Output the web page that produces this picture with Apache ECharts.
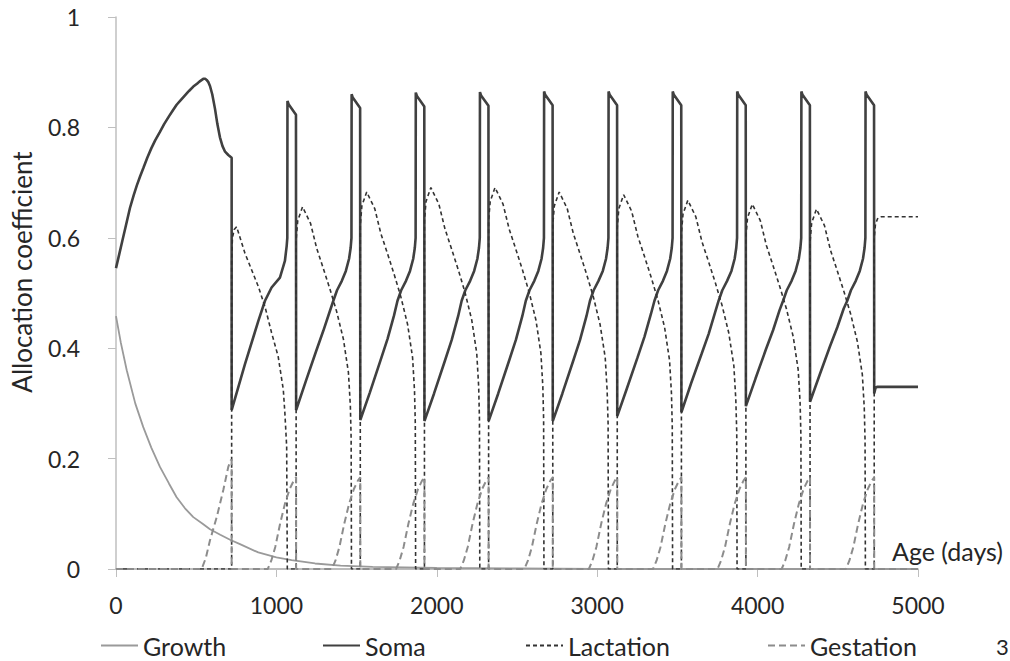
<!DOCTYPE html>
<html>
<head>
<meta charset="utf-8">
<script src="https://cdn.jsdelivr.net/npm/echarts@6/dist/echarts.min.js"></script>
<style>
  html, body { margin: 0; padding: 0; background: #ffffff; }
  #chart { width: 1010px; height: 661px; }
</style>
</head>
<body>
<div id="chart"></div>
<script>
// ---- Data: [age (days), allocation coefficient] ----
const seriesNames = ['Growth', 'Soma', 'Lactation', 'Gestation'];

const growth = [
  [0,0.458],[30,0.41],[67,0.36],[120,0.30],[170,0.257],[220,0.22],[274,0.185],[330,0.155],
  [378,0.13],[430,0.11],[482,0.094],[540,0.082],[586,0.072],[650,0.062],[711,0.053],[773,0.045],
  [887,0.03],[1000,0.021],[1095,0.016],[1241,0.01],[1400,0.006],[1600,0.004],[2000,0.002],
  [2500,0.001],[3000,0],[5000,0]
];

const soma = [
  [0,0.545],[20,0.57],[40,0.595],[60,0.62],[87,0.654],[110,0.677],[130,0.695],[150,0.711],[170,0.726],
  [195,0.745],[220,0.762],[245,0.777],[274,0.792],[300,0.806],[330,0.82],[355,0.831],[378,0.841],
  [405,0.85],[430,0.858],[455,0.866],[482,0.874],[505,0.879],[520,0.883],[544,0.888],[556,0.888],
  [565,0.886],[576,0.882],[586,0.875],[600,0.86],[617,0.834],[632,0.806],[648,0.782],[664,0.766],
  [680,0.756],[700,0.75],[721,0.745],
  [721,0.288],[804,0.371],[887,0.449],[929,0.486],[970,0.51],[1022,0.528],[1053,0.558],[1064,0.585],[1068,0.6],
  [1069,0.848],[1076,0.842],[1122,0.823],
  [1123,0.288],[1183,0.34],[1248,0.395],[1293,0.432],[1333,0.467],[1355,0.486],[1378,0.505],[1408,0.522],
  [1433,0.54],[1453,0.562],[1463,0.582],[1468,0.6],[1469,0.86],[1476,0.854],[1522,0.835],
  [1523,0.27],[1583,0.32],[1648,0.377],[1693,0.417],[1733,0.459],[1755,0.486],[1778,0.505],[1808,0.522],
  [1833,0.54],[1853,0.562],[1863,0.582],[1868,0.6],[1869,0.863],[1876,0.857],[1922,0.838],
  [1923,0.268],[1983,0.318],[2048,0.375],[2093,0.415],[2133,0.458],[2155,0.486],[2178,0.505],[2208,0.522],
  [2233,0.54],[2253,0.562],[2263,0.582],[2268,0.6],[2269,0.864],[2276,0.858],[2322,0.839],
  [2323,0.268],[2383,0.318],[2448,0.375],[2493,0.415],[2533,0.458],[2555,0.486],[2578,0.505],[2608,0.522],
  [2633,0.54],[2653,0.562],[2663,0.582],[2668,0.6],[2669,0.865],[2676,0.859],[2722,0.84],
  [2723,0.268],[2783,0.318],[2848,0.375],[2893,0.415],[2933,0.458],[2955,0.486],[2978,0.505],[3008,0.522],
  [3035,0.54],[3055,0.562],[3065,0.582],[3070,0.6],[3071,0.865],[3078,0.859],[3124,0.84],
  [3125,0.277],[3185,0.327],[3250,0.382],[3295,0.421],[3335,0.462],[3357,0.486],[3380,0.505],[3410,0.522],
  [3435,0.54],[3455,0.562],[3465,0.582],[3470,0.6],[3471,0.865],[3478,0.859],[3524,0.84],
  [3525,0.284],[3585,0.336],[3650,0.389],[3695,0.426],[3735,0.465],[3757,0.486],[3780,0.505],[3810,0.522],
  [3837,0.54],[3857,0.562],[3867,0.582],[3872,0.6],[3873,0.865],[3880,0.859],[3926,0.84],
  [3927,0.295],[3987,0.345],[4052,0.398],[4097,0.433],[4137,0.469],[4159,0.486],[4182,0.505],[4212,0.522],
  [4237,0.54],[4257,0.562],[4267,0.582],[4272,0.6],[4273,0.865],[4280,0.859],[4326,0.84],
  [4327,0.303],[4387,0.352],[4452,0.404],[4497,0.438],[4537,0.472],[4559,0.486],[4582,0.505],[4612,0.522],
  [4637,0.54],[4657,0.562],[4667,0.582],[4672,0.6],[4673,0.865],[4680,0.859],[4726,0.84],
  [4727,0.318],[4735,0.328],[4745,0.33],[5000,0.33]
];

const lactation = [
  [0,0],[721,0],
  [721,0.56],[726,0.6],[737,0.615],[752,0.62],[804,0.572],[887,0.512],[929,0.475],[970,0.428],
  [1011,0.385],[1043,0.325],[1053,0.282],[1064,0.222],[1068,0],
  [1123,0],[1123,0.596],[1133,0.631],[1163,0.656],[1213,0.626],[1251,0.581],[1293,0.544],[1335,0.506],
  [1376,0.466],[1418,0.416],[1449,0.356],[1461,0.296],[1466,0.236],[1468,0],
  [1523,0],[1523,0.623],[1533,0.658],[1563,0.683],[1613,0.653],[1651,0.608],[1693,0.571],[1735,0.533],
  [1776,0.493],[1818,0.443],[1849,0.383],[1861,0.323],[1866,0.263],[1868,0],
  [1923,0],[1923,0.631],[1933,0.666],[1963,0.691],[2013,0.661],[2051,0.616],[2093,0.579],[2135,0.541],
  [2176,0.501],[2218,0.451],[2249,0.391],[2261,0.331],[2266,0.271],[2268,0],
  [2323,0],[2323,0.631],[2333,0.666],[2363,0.691],[2413,0.661],[2451,0.616],[2493,0.579],[2535,0.541],
  [2576,0.501],[2618,0.451],[2649,0.391],[2661,0.331],[2666,0.271],[2668,0],
  [2723,0],[2723,0.623],[2733,0.658],[2763,0.683],[2813,0.653],[2851,0.608],[2893,0.571],[2935,0.533],
  [2976,0.493],[3018,0.443],[3050,0.383],[3062,0.323],[3068,0.263],[3070,0],
  [3125,0],[3125,0.618],[3135,0.653],[3165,0.678],[3215,0.648],[3253,0.603],[3295,0.566],[3337,0.528],
  [3378,0.488],[3420,0.438],[3451,0.378],[3463,0.318],[3468,0.258],[3470,0],
  [3525,0],[3525,0.608],[3535,0.643],[3565,0.668],[3615,0.638],[3653,0.593],[3695,0.556],[3737,0.518],
  [3778,0.478],[3820,0.428],[3852,0.368],[3864,0.308],[3870,0.248],[3872,0],
  [3927,0],[3927,0.601],[3937,0.636],[3967,0.661],[4017,0.631],[4055,0.586],[4097,0.549],[4139,0.511],
  [4180,0.471],[4222,0.421],[4253,0.361],[4265,0.301],[4270,0.241],[4272,0],
  [4327,0],[4327,0.592],[4337,0.627],[4367,0.652],[4417,0.622],[4455,0.577],[4497,0.54],[4539,0.502],
  [4580,0.462],[4622,0.412],[4653,0.352],[4665,0.292],[4670,0.232],[4672,0],
  [4727,0],[4727,0.6],[4735,0.625],[4750,0.636],[4770,0.638],[5000,0.638]
];

const gestation = [
  [0,0],[534,0],[560,0.02],[586,0.052],[628,0.094],[669,0.143],[700,0.185],[715,0.197],[721,0.198],[721,0],
  [946,0],[968,0.015],[993,0.04],[1023,0.082],[1053,0.118],[1083,0.145],[1108,0.16],[1123,0.166],[1123,0],
  [1346,0],[1368,0.015],[1393,0.04],[1423,0.082],[1453,0.118],[1483,0.145],[1508,0.16],[1523,0.166],[1523,0],
  [1746,0],[1768,0.015],[1793,0.04],[1823,0.082],[1853,0.118],[1883,0.145],[1908,0.16],[1923,0.166],[1923,0],
  [2146,0],[2168,0.015],[2193,0.04],[2223,0.082],[2253,0.118],[2283,0.145],[2308,0.16],[2323,0.166],[2323,0],
  [2546,0],[2568,0.015],[2593,0.04],[2623,0.082],[2653,0.118],[2683,0.145],[2708,0.16],[2723,0.166],[2723,0],
  [2948,0],[2970,0.015],[2995,0.04],[3025,0.082],[3055,0.118],[3085,0.145],[3110,0.16],[3125,0.166],[3125,0],
  [3348,0],[3370,0.015],[3395,0.04],[3425,0.082],[3455,0.118],[3485,0.145],[3510,0.16],[3525,0.166],[3525,0],
  [3750,0],[3772,0.015],[3797,0.04],[3827,0.082],[3857,0.118],[3887,0.145],[3912,0.16],[3927,0.166],[3927,0],
  [4150,0],[4172,0.015],[4197,0.04],[4227,0.082],[4257,0.118],[4287,0.145],[4312,0.16],[4327,0.166],[4327,0],
  [4550,0],[4572,0.015],[4597,0.04],[4627,0.082],[4657,0.118],[4687,0.145],[4712,0.16],[4727,0.166],[4727,0],
  [5000,0]
];

const yAxisTitle = 'Allocation coefficient';
const xAxisTitle = 'Age (days)';
const cornerText = '3';

// ---- Chart ----
const FONT = 'Lato, "Open Sans", sans-serif';
const chart = echarts.init(document.getElementById('chart'), null, { renderer: 'svg' });

const legendBase = {
  top: 633, padding: 0, itemWidth: 37, itemHeight: 14, itemGap: 0,
  itemStyle: { opacity: 0 },
  textStyle: { fontFamily: FONT, fontSize: 25, color: '#262626' },
  selectedMode: false
};

chart.setOption({
  animation: false,
  backgroundColor: '#ffffff',
  grid: { left: 116, right: 92, top: 17, bottom: 92, containLabel: false, outerBoundsMode: 'none' },
  xAxis: {
    type: 'value', min: 0, max: 5000, interval: 1000,
    axisLine: { show: true, onZero: false, lineStyle: { color: '#a6a6a6', width: 1.5 } },
    axisTick: { show: true, length: 8, lineStyle: { color: '#bfbfbf' } },
    axisLabel: { fontFamily: FONT, fontSize: 23, color: '#262626', margin: 24,
                 formatter: function (v) { return String(v); } },
    splitLine: { show: false }
  },
  yAxis: {
    type: 'value', min: 0, max: 1, interval: 0.2,
    axisLine: { show: true, lineStyle: { color: '#bfbfbf', width: 1.5 } },
    axisTick: { show: true, length: 8, lineStyle: { color: '#bfbfbf' } },
    axisLabel: { fontFamily: FONT, fontSize: 23, color: '#262626', margin: 36 },
    splitLine: { show: false }
  },
  legend: [
    Object.assign({ left: 100, data: [seriesNames[0]] }, legendBase),
    Object.assign({ left: 322, data: [seriesNames[1]] }, legendBase),
    Object.assign({ left: 525, data: [seriesNames[2]] }, legendBase),
    Object.assign({ left: 767, data: [seriesNames[3]] }, legendBase)
  ],
  graphic: [
    { type: 'text', x: 22, y: 272, rotation: Math.PI / 2,
      style: { text: yAxisTitle, fontFamily: FONT, fontSize: 26, fill: '#262626', align: 'center', verticalAlign: 'middle' } },
    { type: 'text', x: 892, y: 551,
      style: { text: xAxisTitle, fontFamily: FONT, fontSize: 25, fill: '#262626', align: 'left', verticalAlign: 'middle' } },
    { type: 'text', x: 996, y: 646,
      style: { text: cornerText, fontFamily: FONT, fontSize: 22, fill: '#262626', align: 'left', verticalAlign: 'middle' } }
  ],
  series: [
    { name: seriesNames[0], type: 'line', data: growth, symbol: 'none', smooth: false, z: 2,
      lineStyle: { color: '#9a9a9a', width: 1.8 }, itemStyle: { color: '#9a9a9a' } },
    { name: seriesNames[1], type: 'line', data: soma, symbol: 'none', smooth: false, z: 3,
      lineStyle: { color: '#404040', width: 2.6 }, itemStyle: { color: '#404040' } },
    { name: seriesNames[2], type: 'line', data: lactation, symbol: 'none', smooth: false, z: 4,
      lineStyle: { color: '#333333', width: 1.6, type: [4, 3] }, itemStyle: { color: '#333333' } },
    { name: seriesNames[3], type: 'line', data: gestation, symbol: 'none', smooth: false, z: 5,
      lineStyle: { color: '#8c8c8c', width: 2, type: [7, 4] }, itemStyle: { color: '#8c8c8c' } }
  ]
});
</script>
</body>
</html>
